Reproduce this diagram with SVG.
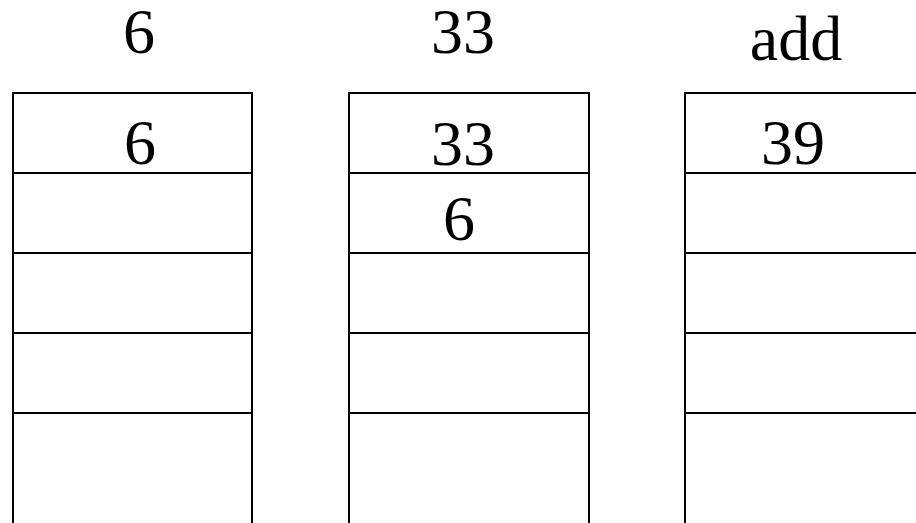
<svg xmlns="http://www.w3.org/2000/svg" width="916" height="523" viewBox="0 0 916 523">
  <style>
    .ln { stroke: #000; stroke-width: 2; fill: none; }
    .t { font-family: "Liberation Serif", "Times New Roman", serif; font-size: 64px; fill: #000; text-anchor: middle; }
  </style>
  <rect width="916" height="523" fill="#fff"/>
  <g id="stack1">
    <path class="ln" d="M13 523V93H252V523M13 173H252M13 253H252M13 333H252M13 413H252"/>
    <text class="t" x="139" y="53">6</text>
    <text class="t" x="140" y="164">6</text>
  </g>
  <g id="stack2">
    <path class="ln" d="M349 523V93H589V523M349 173H589M349 253H589M349 333H589M349 413H589"/>
    <text class="t" x="463" y="53">33</text>
    <text class="t" x="463" y="165">33</text>
    <text class="t" x="459" y="240">6</text>
  </g>
  <g id="stack3">
    <path class="ln" d="M685 523V93H916M685 173H916M685 253H916M685 333H916M685 413H916"/>
    <text class="t" x="796" y="60">add</text>
    <text class="t" x="793" y="164">39</text>
  </g>
  <g id="connectors"></g>
</svg>
